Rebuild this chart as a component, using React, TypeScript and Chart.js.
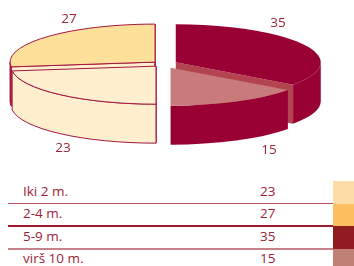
import React, { useEffect, useRef } from 'react';
import { Chart, registerables } from 'chart.js';

Chart.register(...registerables);

// ---- data ----
const categories = ['Iki 2 m.', '2-4 m.', '5-9 m.', 'virš 10 m.'];
const values = [23, 27, 35, 15];

// ---- styles ----
const topColors = ['#FFEFCF', '#FFE09A', '#990033', '#C97B7B'];
const sideColors = ['#FFEFCF', '#A3163F', '#990033', '#990033'];
const cutColors = ['#FFEFCF', '#FFEFCF', '#B2434F', '#990033'];
const borderColors = ['#A3163F', '#A3163F', '', ''];
const swatchColors = ['#FDDEA8', '#FBBF5F', '#901C22', '#BF7F72'];
const lineColors = ['#B84D5B', '#9B1B2C', '#C6828B'];
const textColor = '#9B2335';
const labelAnchors = [
  [63, 152],
  [69, 23],
  [278, 27],
  [269, 154],
];

const pie3d = {
  id: 'pie3d',
  beforeDatasetsDraw(chart: any, _args: any, opts: any) {
    const ctx: CanvasRenderingContext2D = chart.ctx;
    const meta = chart.getDatasetMeta(0);
    const { cx, cy, rx, ry, depth } = opts;
    const ratio = ry / rx;
    const items = meta.data.map((el: any, i: number) => {
      const p = el.getProps(['startAngle', 'endAngle'], true);
      const a = p.startAngle;
      const b = p.endAngle;
      const mid = (a + b) / 2;
      const off = (el.options && el.options.offset) || 0;
      return { i, a, b, mid, x: cx + Math.cos(mid) * off, y: cy + Math.sin(mid) * off * ratio };
    });
    const order = items.slice().sort((u: any, v: any) => Math.sin(u.mid) - Math.sin(v.mid));
    ctx.save();
    ctx.lineWidth = 1;
    ctx.lineJoin = 'round';
    const paint = (fill: string, stroke: string) => {
      ctx.fillStyle = fill;
      ctx.fill();
      if (stroke) {
        ctx.strokeStyle = stroke;
        ctx.stroke();
      }
    };
    const cut = (s: any, th: number, fill: string, stroke: string) => {
      const px = s.x + rx * Math.cos(th);
      const py = s.y + ry * Math.sin(th);
      ctx.beginPath();
      ctx.moveTo(s.x, s.y);
      ctx.lineTo(px, py);
      ctx.lineTo(px, py + depth);
      ctx.lineTo(s.x, s.y + depth);
      ctx.closePath();
      paint(fill, stroke);
    };
    for (const s of order) {
      const i = s.i;
      const stroke = borderColors[i];
      const eps = 1e-6;
      if (-Math.cos(s.a) > -eps) cut(s, s.a, cutColors[i], stroke);
      if (Math.cos(s.b) > -eps) cut(s, s.b, cutColors[i], stroke);
      for (const k of [-1, 0, 1]) {
        const lo = Math.max(s.a, k * 2 * Math.PI);
        const hi = Math.min(s.b, k * 2 * Math.PI + Math.PI);
        if (hi > lo) {
          ctx.beginPath();
          ctx.ellipse(s.x, s.y, rx, ry, 0, lo, hi, false);
          ctx.ellipse(s.x, s.y + depth, rx, ry, 0, hi, lo, true);
          ctx.closePath();
          paint(sideColors[i], stroke);
        }
      }
      ctx.beginPath();
      ctx.moveTo(s.x, s.y);
      ctx.ellipse(s.x, s.y, rx, ry, 0, s.a, s.b, false);
      ctx.closePath();
      paint(topColors[i], stroke);
    }
    ctx.fillStyle = textColor;
    ctx.font = '13.5px "Open Sans", sans-serif';
    ctx.textAlign = 'center';
    ctx.textBaseline = 'alphabetic';
    items.forEach((s: any) => {
      const v = chart.data.datasets[0].data[s.i];
      const [lx, ly] = labelAnchors[s.i];
      ctx.fillText(String(v), lx, ly);
    });
    ctx.restore();
    return false;
  },
};

export default function App() {
  const ref = useRef<HTMLCanvasElement>(null);
  useEffect(() => {
    if (!ref.current) return;
    const chart = new Chart(ref.current, {
      type: 'pie',
      data: {
        labels: categories,
        datasets: [
          {
            data: values,
            backgroundColor: topColors,
            borderWidth: 0,
            offset: [11, 11, 14, 16],
          },
        ],
      },
      options: {
        responsive: false,
        devicePixelRatio: 1,
        animation: false,
        rotation: 180,
        events: [],
        plugins: {
          legend: { display: false },
          tooltip: { enabled: false },
          pie3d: { cx: 163.3, cy: 64, rx: 145, ry: 38, depth: 39 },
        } as any,
      },
      plugins: [pie3d as any],
    });
    return () => chart.destroy();
  }, []);

  const rowH = 22.5;
  return (
    <div
      style={{
        position: 'fixed',
        left: 0,
        top: 0,
        width: 354,
        height: 266,
        background: '#fff',
        overflow: 'hidden',
        fontFamily: '"Open Sans", sans-serif',
        color: textColor,
      }}
    >
      <canvas ref={ref} width={354} height={170} style={{ position: 'absolute', left: 0, top: 0, width: 354, height: 170 }} />
      {categories.map((c, i) => (
        <div
          key={'sw' + i}
          style={{
            position: 'absolute',
            left: 333,
            top: 181 + i * 22.7,
            width: 21,
            height: i === 3 ? 30 : 22.7,
            background: swatchColors[i],
          }}
        />
      ))}
      {lineColors.map((lc, i) => (
        <div
          key={'ln' + i}
          style={{ position: 'absolute', left: 8, top: 202.7 + i * 22.7, width: 325, height: 1.5, background: lc }}
        />
      ))}
      {categories.map((c, i) => (
        <div
          key={'lb' + i}
          style={{
            position: 'absolute',
            left: 23,
            top: 196 + i * rowH - 15.2,
            fontSize: 13.5,
            lineHeight: '20px',
            whiteSpace: 'nowrap',
          }}
        >
          {c}
        </div>
      ))}
      {values.map((v, i) => (
        <div
          key={'vl' + i}
          style={{
            position: 'absolute',
            left: 200,
            width: 75.5,
            textAlign: 'right',
            top: 196 + i * rowH - 15.2,
            fontSize: 13.5,
            lineHeight: '20px',
          }}
        >
          {v}
        </div>
      ))}
    </div>
  );
}
